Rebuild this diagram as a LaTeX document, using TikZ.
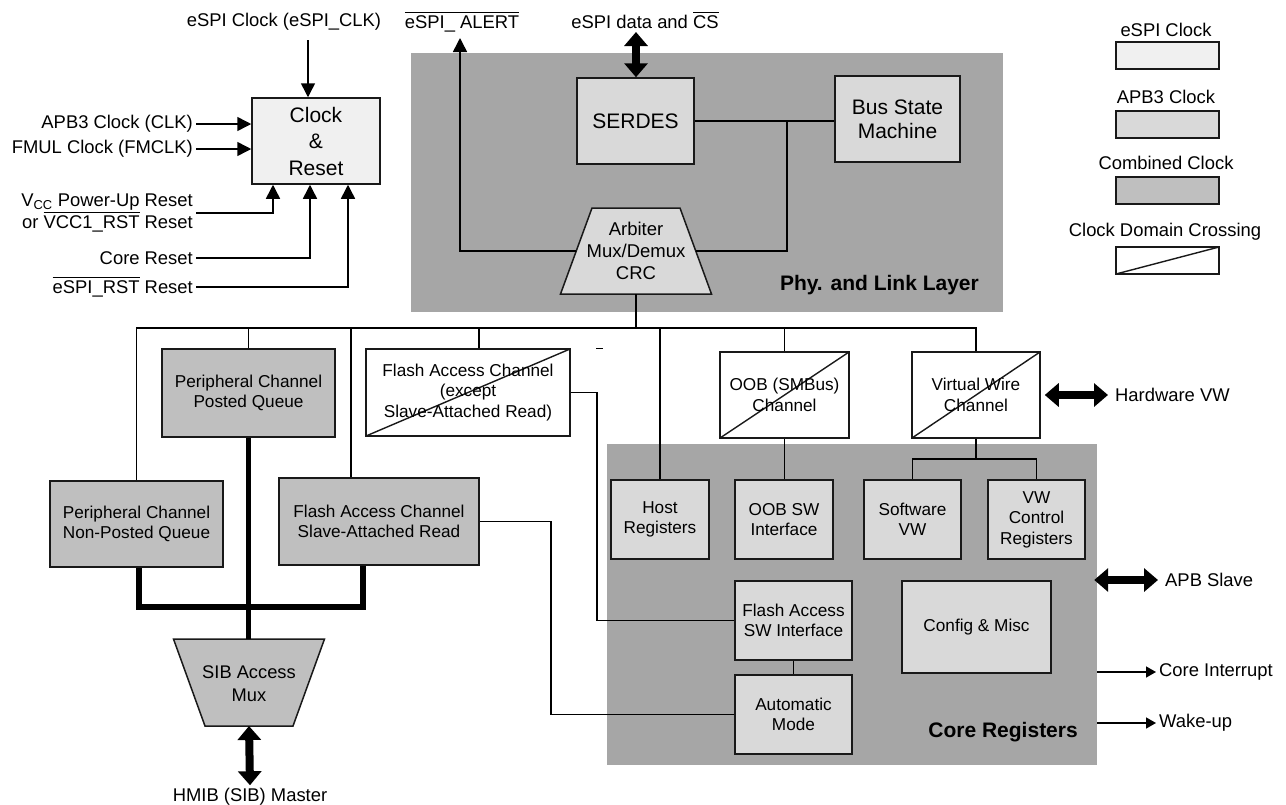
\documentclass[tikz,border=0pt]{standalone}
\usepackage{fontspec}
\setmainfont{Liberation Sans}
\usetikzlibrary{arrows.meta}
\definecolor{eclk}{HTML}{F0F0F0}
\definecolor{apb}{HTML}{D9D9D9}
\definecolor{comb}{HTML}{BFBFBF}
\definecolor{layer}{HTML}{A6A6A6}
\newcommand\fsbox{\fontsize{17.2}{20.5}\selectfont}
\newcommand\fslab{\fontsize{18.4}{22}\selectfont}
\newcommand\fssib{\fontsize{18.3}{23}\selectfont}
\newcommand\fsarb{\fontsize{18.5}{22}\selectfont}
\newcommand\fsbig{\fontsize{21}{24}\selectfont}
\newcommand\fscr{\fontsize{21}{26.5}\selectfont}
\newcommand\fsbold{\fontsize{21}{25}\selectfont\bfseries}
\newcommand\myovl[1]{\setbox0\hbox{#1}\rlap{\rule[\dimexpr\ht0+2.5pt\relax]{\wd0}{1.1pt}}\box0\relax}
\begin{document}
\begin{tikzpicture}[x=1pt,y=-1pt,
  box/.style={draw=black!90, line width=1.5pt, inner sep=0pt, align=center, font=\fsbox},
  shp/.style={draw=black!90, line width=1.5pt},
  cdc/.style={box, fill=white, path picture={\draw[line width=1.4pt] (path picture bounding box.south west) -- (path picture bounding box.north east);}},
  lab/.style={font=\fslab, inner sep=3pt},
  ln/.style={line width=1.5pt},
  thk/.style={line width=5.5pt},
  arr/.style={line width=1.5pt, -{Triangle[width=14pt,length=14pt]}},
  arrS/.style={line width=1.5pt, -{Triangle[width=11pt,length=10pt]}},
  bigarr/.style={line width=8pt, {Triangle[width=23pt,length=14pt]}-{Triangle[width=23pt,length=14pt]}}]
\fill[white] (0,0) rectangle (1286,804);
\useasboundingbox (0,0) rectangle (1286,804);

% layers
\node[fill=layer, inner sep=0pt, minimum width=592pt, minimum height=259pt] (phy) at (707,182.5) {};
\node[fill=layer, inner sep=0pt, minimum width=490pt, minimum height=321pt] (core) at (852,604.5) {};
\node[font=\fsbold, anchor=east, inner sep=0pt] (phylab) at (979,285) {Phy. and Link Layer};
\node[font=\fsbold, anchor=east, inner sep=0pt] (corelab) at (1078,732) {Core Registers};

% clock & reset
\node[box, fill=eclk, minimum width=128pt, minimum height=86pt, font=\fscr] (cr) at (316,141) {Clock\\\&\\Reset};
\node[lab] (lclk) at (284,22) {eSPI Clock (eSPI\_CLK)};
\node[lab, anchor=east] (lapb) at (196,124) {APB3 Clock (CLK)};
\node[lab, anchor=east] (lfm) at (196,149) {FMUL Clock (FMCLK)};
\node[lab, anchor=east, align=right] (lvcc) at (196,213) {V\textsubscript{CC} Power-Up Reset\\or \myovl{VCC1\_RST} Reset};
\node[lab, anchor=east] (lcore) at (196,258) {Core Reset};
\node[lab, anchor=east] (lrst) at (196,287) {\myovl{eSPI\_RST} Reset};

% legend
\node[lab] (lg1t) at (1166,30) {eSPI Clock};
\node[box, fill=eclk, minimum width=103pt, minimum height=27pt] (lg1) at (1167.5,55.5) {};
\node[lab] (lg2t) at (1166,97) {APB3 Clock};
\node[box, fill=apb, minimum width=103pt, minimum height=27pt] (lg2) at (1167.5,124.5) {};
\node[lab] (lg3t) at (1166,163) {Combined Clock};
\node[box, fill=comb, minimum width=103pt, minimum height=27pt] (lg3) at (1167.5,190.5) {};
\node[lab] (lg4t) at (1165,232) {Clock Domain Crossing};
\node[cdc, minimum width=103pt, minimum height=27pt] (lg4) at (1167.5,260.5) {};

% phy layer
\node[box, fill=apb, minimum width=117pt, minimum height=86pt, font=\fsbig] (serdes) at (635.5,121) {SERDES};
\node[box, fill=apb, minimum width=125pt, minimum height=86pt, font=\fsbig] (bsm) at (897.5,119) {Bus State\\Machine};
\draw[shp, fill=apb] (592,208) -- (680,208) -- (711.5,294) -- (560.5,294) -- cycle;
\node[align=center, font=\fsarb, inner sep=0pt] (arb) at (636,251) {Arbiter\\Mux/Demux\\CRC};
\coordinate (arbL) at (576.25,251);
\coordinate (arbR) at (695.75,251);
\coordinate (arbB) at (636,294);
\node[lab] (lalert) at (462,22) {\myovl{eSPI\_ ALERT}};
\node[lab] (ldata) at (645,20) {eSPI data and \myovl{CS}};

% channels
\node[box, fill=comb, minimum width=173pt, minimum height=88pt] (posted) at (248.5,393) {Peripheral Channel\\Posted Queue};
\node[box, fill=comb, minimum width=173pt, minimum height=86pt] (nonposted) at (136.5,524) {Peripheral Channel\\Non-Posted Queue};
\node[box, fill=comb, minimum width=200pt, minimum height=87pt] (fsar) at (379,521.5) {Flash Access Channel\\Slave-Attached Read};
\node[cdc, minimum width=204pt, minimum height=87pt] (fach) at (468,392.5) {Flash Access Channel\\(except\\Slave-Attached Read)};
\node[cdc, minimum width=129pt, minimum height=86pt] (oob) at (784.5,395) {OOB (SMBus)\\Channel};
\node[cdc, minimum width=128pt, minimum height=86pt] (vw) at (976,395) {Virtual Wire\\Channel};

% core registers
\node[box, fill=apb, minimum width=98pt, minimum height=79pt] (host) at (660,519.5) {Host\\Registers};
\node[box, fill=apb, minimum width=98pt, minimum height=79pt] (oobsw) at (784,519.5) {OOB SW\\Interface};
\node[box, fill=apb, minimum width=97pt, minimum height=79pt] (swvw) at (912.5,519.5) {Software\\VW};
\node[box, fill=apb, minimum width=97pt, minimum height=79pt] (vwctl) at (1036.5,519.5) {VW\\Control\\Registers};
\node[box, fill=apb, minimum width=117pt, minimum height=79pt] (fasw) at (793.5,620.5) {Flash Access\\SW Interface};
\node[box, fill=apb, minimum width=117pt, minimum height=79pt] (auto) at (793.5,714.5) {Automatic\\Mode};
\node[box, fill=apb, minimum width=149pt, minimum height=92pt] (cfg) at (976.5,627) {Config \& Misc};

% SIB mux
\draw[shp, fill=comb] (173.5,639) -- (324.5,639) -- (293,726) -- (205,726) -- cycle;
\node[align=center, font=\fssib, inner sep=0pt] (sib) at (249,683.5) {SIB Access\\Mux};
\coordinate (sibT) at (249,639);
\coordinate (sibB) at (249,726);
\node[lab] (hmib) at (250,797) {HMIB (SIB) Master};

% external labels
\node[lab, anchor=west] (lhw) at (1112,395) {Hardware VW};
\node[lab, anchor=west] (lapbs) at (1162,580) {APB Slave};
\node[lab, anchor=west] (lint) at (1156,672) {Core Interrupt};
\node[lab, anchor=west] (lwake) at (1156,723) {Wake-up};

% clock connections
\coordinate (clkin) at (308,40);
\draw[arr] (clkin) -- (clkin |- cr.north);
\draw[arr] (lapb.east) -- (lapb.east -| cr.west);
\draw[arr] (lfm.east) -- (lfm.east -| cr.west);
\draw[arr] (lvcc.east) -| ([xshift=-43pt]cr.south);
\draw[arr] (lcore.east) -| ([xshift=-6pt]cr.south);
\draw[arr] (lrst.east) -| ([xshift=32pt]cr.south);

% phy connections
\coordinate (jn) at (787,121);
\draw[ln] (serdes.east) -- (bsm.west |- serdes.east);
\draw[ln] (arbR) -| (jn);
\coordinate (alertTop) at (460,38);
\draw[arr] (arbL) -| (alertTop);
\coordinate (dataTop) at (636,32);
\draw[bigarr] (dataTop) -- (dataTop |- serdes.north);

% bus
\coordinate (busL) at (136.5,328);
\draw[ln] (nonposted.north) -- (nonposted.north |- busL) -- (vw.north |- busL) -- (vw.north);
\draw[ln] (arbB) -- (arbB |- busL);
\draw[ln] (posted.north) -- (posted.north |- busL);
\draw[ln] ([xshift=-28pt]fsar.north) -- ([xshift=-28pt]fsar.north |- busL);
\draw[ln] ([xshift=11pt]fach.north) -- ([xshift=11pt]fach.north |- busL);
\draw[ln] (host.north) -- (host.north |- busL);
\draw[ln] (oob.north) -- (oob.north |- busL);
\draw[line width=1pt] (596,348) -- (603,348);

% thick SIB paths
\coordinate (jthk) at (300,607);
\draw[thk] ([xshift=2.5pt]nonposted.south) |- (jthk) -| ([xshift=-16pt]fsar.south);
\draw[thk] (posted.south) -- (posted.south |- sibT);
\draw[bigarr] (sibB) -- (hmib.north);

% core connections
\draw[ln] (oob.south) -- (oob.south |- oobsw.north);
\coordinate (vwj) at (976,459);
\draw[ln] (vw.south) -- (vwj);
\draw[ln] (swvw.north) |- (vwj) -| (vwctl.north);
\draw[ln] (fach.east) -- ++(26,0) |- (fasw.west);
\draw[ln] (fsar.east) -- ++(71,0) |- (auto.west);
\draw[ln] (fasw.south) -- (auto.north);

% external
\draw[bigarr] ([xshift=4pt]vw.east) -- ([xshift=-4pt]lhw.west);
\draw[bigarr] ([xshift=-3pt]core.east |- lapbs.west) -- ([xshift=-4pt]lapbs.west);
\draw[arrS] (core.east |- lint.west) -- (lint.west);
\draw[arrS] (core.east |- lwake.west) -- (lwake.west);
\end{tikzpicture}
\end{document}
